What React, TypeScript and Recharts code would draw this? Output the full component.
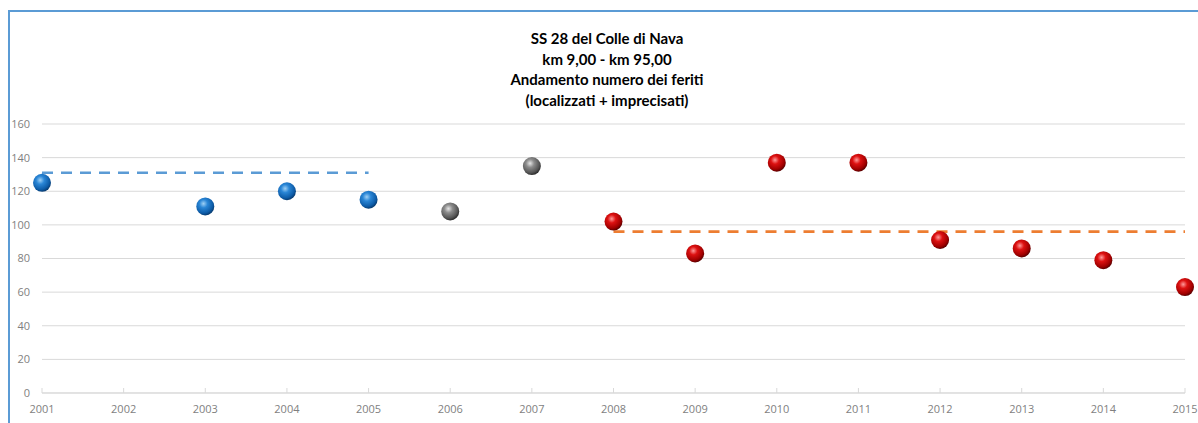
import React from 'react';
import {
  ComposedChart, Scatter, XAxis, YAxis, CartesianGrid, ReferenceLine,
} from 'recharts';

// feriti per anno (localizzati + imprecisati)
const years = [2001, 2002, 2003, 2004, 2005, 2006, 2007, 2008, 2009, 2010, 2011, 2012, 2013, 2014, 2015];
const yTicks = [0, 20, 40, 60, 80, 100, 120, 140, 160];

const bluePoints = [
  { year: 2001, value: 125 },
  { year: 2003, value: 111 },
  { year: 2004, value: 120 },
  { year: 2005, value: 115 },
];
const grayPoints = [
  { year: 2006, value: 108 },
  { year: 2007, value: 135 },
];
const redPoints = [
  { year: 2008, value: 102 },
  { year: 2009, value: 83 },
  { year: 2010, value: 137 },
  { year: 2011, value: 137 },
  { year: 2012, value: 91 },
  { year: 2013, value: 86 },
  { year: 2014, value: 79 },
  { year: 2015, value: 63 },
];

// medie dei periodi (linee tratteggiate)
const blueAvg = { from: 2001, to: 2005, value: 131 };
const redAvg = { from: 2008, to: 2015, value: 96 };

const titleLines = [
  'SS 28 del Colle di Nava',
  'km 9,00 - km 95,00',
  'Andamento numero dei feriti',
  '(localizzati + imprecisati)',
];

const Sphere = (gradId: string) => (props: any) => {
  const { cx, cy } = props;
  if (cx == null || cy == null) return null;
  return <circle cx={cx} cy={cy} r={9} fill={`url(#${gradId})`} />;
};

const XTick = (props: any) => {
  const { x, y, payload } = props;
  return (
    <g>
      <line x1={x} x2={x} y1={y - 5} y2={y} stroke="#d9d9d9" strokeWidth={1} />
      <text x={x} y={y + 20} textAnchor="middle" fill="#7f7f7f" fontSize={11} fontFamily="'Open Sans', sans-serif">
        {payload.value}
      </text>
    </g>
  );
};

const App: React.FC = () => {
  return (
    <div
      style={{
        width: 1198,
        height: 423,
        padding: '10px 0 0 8px',
        boxSizing: 'border-box',
        overflow: 'hidden',
        background: '#fff',
      }}
    >
      <style>{'html,body{margin:0;overflow:hidden;}'}</style>
      <div
        style={{
          position: 'relative',
          width: 1190,
          height: 413,
          borderTop: '2px solid #5b9bd5',
          borderLeft: '2px solid #5b9bd5',
          boxSizing: 'border-box',
        }}
      >
        <div
          style={{
            position: 'absolute',
            top: 16,
            left: 0,
            width: 1194,
            textAlign: 'center',
            fontFamily: 'Lato, sans-serif',
            fontWeight: 700,
            fontSize: 15,
            lineHeight: '20.5px',
            color: '#000',
          }}
        >
          {titleLines.map((l) => (
            <div key={l}>{l}</div>
          ))}
        </div>
        <ComposedChart
          width={1188}
          height={411}
          margin={{ top: 112, right: 13, bottom: 8, left: 2 }}
          style={{ position: 'absolute', top: 0, left: 0 }}
        >
          <defs>
            <radialGradient id="gBlue" cx="40%" cy="35%" r="65%">
              <stop offset="0%" stopColor="#9fd0f5" />
              <stop offset="35%" stopColor="#2a86d6" />
              <stop offset="80%" stopColor="#0d5ca8" />
              <stop offset="100%" stopColor="#083d73" />
            </radialGradient>
            <radialGradient id="gGray" cx="40%" cy="35%" r="65%">
              <stop offset="0%" stopColor="#e6e6e6" />
              <stop offset="35%" stopColor="#8c8c8c" />
              <stop offset="80%" stopColor="#555555" />
              <stop offset="100%" stopColor="#2e2e2e" />
            </radialGradient>
            <radialGradient id="gRed" cx="40%" cy="35%" r="65%">
              <stop offset="0%" stopColor="#ff9a9a" />
              <stop offset="35%" stopColor="#dd1111" />
              <stop offset="80%" stopColor="#a00000" />
              <stop offset="100%" stopColor="#5e0000" />
            </radialGradient>
          </defs>
          <CartesianGrid horizontal vertical={false} stroke="#d9d9d9" strokeWidth={1} />
          <XAxis
            type="number"
            dataKey="year"
            domain={[2001, 2015]}
            ticks={years}
            interval={0}
            height={22}
            axisLine={{ stroke: '#d9d9d9' }}
            tickLine={false}
            tickSize={0}
            tickMargin={0}
            tick={<XTick />}
          />
          <YAxis
            type="number"
            dataKey="value"
            domain={[0, 160]}
            ticks={yTicks}
            width={30}
            axisLine={false}
            tickLine={false}
            tickSize={0}
            tickMargin={12}
            tick={{ fill: '#7f7f7f', fontSize: 11, fontFamily: "'Open Sans', sans-serif" }}
          />
          <ReferenceLine
            segment={[{ x: blueAvg.from, y: blueAvg.value }, { x: blueAvg.to, y: blueAvg.value }]}
            stroke="#5b9bd5"
            strokeWidth={2.7}
            strokeDasharray="11 8"
            ifOverflow="visible"
          />
          <ReferenceLine
            segment={[{ x: redAvg.from, y: redAvg.value }, { x: redAvg.to, y: redAvg.value }]}
            stroke="#ed7d31"
            strokeWidth={2.7}
            strokeDasharray="11 8"
            ifOverflow="visible"
          />
          <Scatter data={bluePoints} shape={Sphere('gBlue')} isAnimationActive={false} />
          <Scatter data={grayPoints} shape={Sphere('gGray')} isAnimationActive={false} />
          <Scatter data={redPoints} shape={Sphere('gRed')} isAnimationActive={false} />
        </ComposedChart>
      </div>
    </div>
  );
};

export default App;
